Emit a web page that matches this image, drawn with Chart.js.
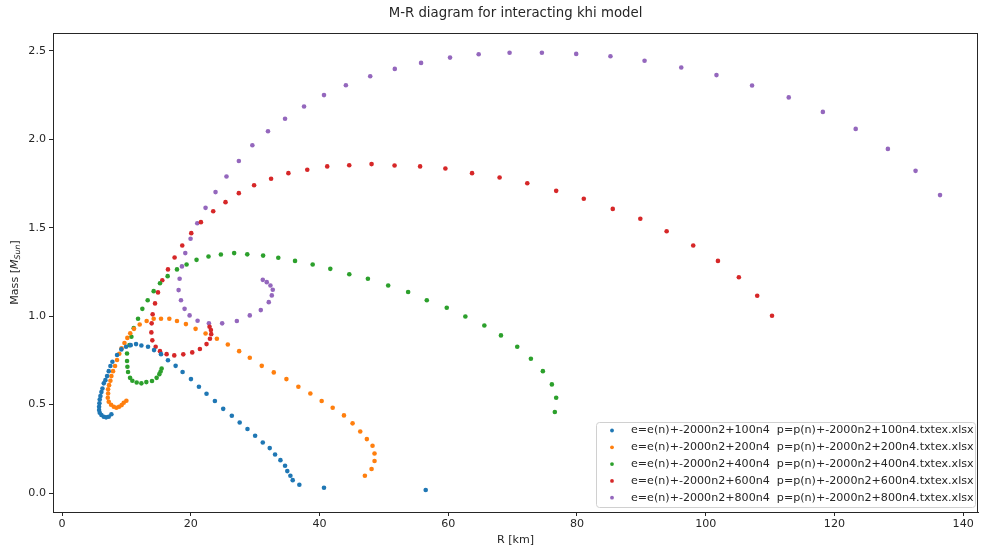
<!DOCTYPE html>
<html>
<head>
<meta charset="utf-8">
<script src="https://cdn.jsdelivr.net/npm/chart.js@4"></script>
<style>
  html,body{margin:0;padding:0;background:#fff;}
  #wrap{width:982px;height:548px;}
</style>
</head>
<body>
<div id="wrap"><canvas id="chart" width="982" height="548"></canvas></div>
<script>
/* DATA (R in km, M in solar masses) */
const labels = [
  "e=e(n)+-2000n2+100n4  p=p(n)+-2000n2+100n4.txtex.xlsx",
  "e=e(n)+-2000n2+200n4  p=p(n)+-2000n2+200n4.txtex.xlsx",
  "e=e(n)+-2000n2+400n4  p=p(n)+-2000n2+400n4.txtex.xlsx",
  "e=e(n)+-2000n2+600n4  p=p(n)+-2000n2+600n4.txtex.xlsx",
  "e=e(n)+-2000n2+800n4  p=p(n)+-2000n2+800n4.txtex.xlsx"
];
const colors = ["#1f77b4","#ff7f0e","#2ca02c","#d62728","#9467bd"];

const r100 = [7.67,7.26,6.85,6.49,6.12,5.86,5.76,5.76,5.81,5.86,5.97,6.12,6.28,6.49,6.74,7.0,7.26,7.52,7.83,8.55,
  9.22,9.95,10.67,11.5,12.33,13.36,14.3,15.38,16.46,17.65,18.73,20.03,21.27,22.45,23.75,25.04,26.38,27.6,28.81,30.0,
  31.19,32.27,33.1,33.93,34.65,35.0,35.48,35.84,36.87,40.7,56.5];
const m100 = [0.445,0.431,0.428,0.431,0.441,0.454,0.469,0.488,0.507,0.529,0.548,0.571,0.591,0.620,0.638,0.661,0.689,0.718,0.742,0.78,
  0.812,0.827,0.836,0.842,0.834,0.827,0.808,0.785,0.751,0.719,0.684,0.644,0.601,0.561,0.520,0.476,0.437,0.399,0.362,0.324,
  0.286,0.254,0.218,0.186,0.154,0.124,0.098,0.073,0.047,0.030,0.017];

const r200 = [10.0,9.59,9.27,8.86,8.45,8.04,7.62,7.26,7.11,7.16,7.16,7.31,7.52,7.67,7.93,8.24,8.55,8.9,9.25,9.7,
  10.15,10.6,11.19,12.07,13.15,14.24,15.38,16.67,17.86,19.25,20.75,22.3,24.06,25.76,27.52,29.17,31.03,32.9,34.86,36.72,
  38.58,40.34,42.05,43.8,45.14,46.33,47.36,48.24,48.55,48.55,48.09,47.05];
const m200 = [0.522,0.510,0.497,0.488,0.482,0.488,0.499,0.516,0.539,0.563,0.586,0.610,0.635,0.661,0.689,0.718,0.752,0.787,0.818,0.848,
  0.877,0.903,0.928,0.953,0.972,0.985,0.985,0.985,0.972,0.955,0.928,0.902,0.872,0.840,0.802,0.765,0.719,0.682,0.644,0.601,
  0.563,0.520,0.482,0.439,0.394,0.348,0.305,0.267,0.224,0.181,0.136,0.098];

const r400 = [15.48,15.32,15.12,14.7,13.98,13.1,12.33,11.6,10.93,10.57,10.26,10.16,10.1,10.1,10.47,10.78,11.14,11.81,12.48,13.31,
  14.24,15.22,16.41,17.86,19.35,20.9,22.76,24.68,26.74,28.78,31.24,33.6,36.2,38.94,41.68,44.63,47.52,50.67,53.77,56.67,
  59.77,62.66,65.61,68.19,70.72,72.84,74.7,76.1,76.77,76.56];
const m400 = [0.704,0.687,0.672,0.651,0.633,0.627,0.620,0.625,0.635,0.651,0.684,0.714,0.746,0.789,0.836,0.883,0.932,0.985,1.041,1.090,
  1.141,1.186,1.226,1.264,1.292,1.318,1.337,1.348,1.356,1.349,1.342,1.330,1.312,1.292,1.267,1.237,1.211,1.173,1.136,1.090,
  1.047,0.998,0.947,0.891,0.827,0.759,0.689,0.614,0.539,0.458];

const r600 = [22.92,23.13,23.18,22.98,22.45,21.42,20.23,18.84,17.44,16.25,15.22,14.55,14.03,13.88,13.93,14.08,14.45,14.91,15.58,16.46,
  17.49,18.68,20.08,21.58,23.49,25.4,27.47,29.84,32.48,35.17,38.1,41.2,44.62,48.09,51.66,55.63,59.56,63.7,67.98,72.28,
  76.77,81.06,85.56,89.84,93.93,98.06,101.9,105.15,108.0,110.3];
const m600 = [0.940,0.921,0.898,0.872,0.842,0.814,0.795,0.784,0.778,0.785,0.802,0.827,0.863,0.908,0.959,1.010,1.072,1.134,1.203,1.264,
  1.331,1.399,1.469,1.531,1.593,1.644,1.695,1.740,1.776,1.808,1.827,1.846,1.853,1.859,1.851,1.846,1.834,1.808,1.783,1.751,
  1.708,1.663,1.606,1.550,1.480,1.399,1.312,1.220,1.115,1.002];

const r800 = [31.19,31.81,32.38,32.74,32.59,32.12,30.88,29.17,27.16,24.88,22.82,21.06,19.82,19.04,18.48,18.11,18.27,18.63,19.15,19.97,
  21.01,22.3,23.85,25.55,27.47,29.57,32.0,34.65,37.6,40.7,44.1,47.88,51.7,55.78,60.28,64.73,69.53,74.55,79.88,85.2,
  90.5,96.2,101.67,107.2,112.9,118.2,123.3,128.3,132.6,136.4];
const m800 = [1.205,1.192,1.173,1.149,1.117,1.079,1.034,1.004,0.972,0.959,0.959,0.974,1.004,1.041,1.090,1.147,1.211,1.281,1.356,1.437,
  1.525,1.612,1.701,1.789,1.877,1.966,2.045,2.115,2.185,2.249,2.305,2.356,2.397,2.431,2.461,2.480,2.488,2.488,2.482,2.469,
  2.443,2.405,2.362,2.303,2.236,2.154,2.058,1.945,1.821,1.684];

const xTicks = [0,20,40,60,80,100,120,140];
const yTicks = [0.0,0.5,1.0,1.5,2.0,2.5];

const seriesR = [r100,r200,r400,r600,r800];
const seriesM = [m100,m200,m400,m600,m800];

const TITLE = "M-R diagram for interacting khi model";
const FONT = "'DejaVu Sans', sans-serif";
const INK = "#262626";
const FS = 11.1;

/* TITLE + FRAME + Y LABEL + LEGEND */
const decor = {
  id:"decor",
  afterDraw(chart){
    const {ctx, chartArea:a} = chart;
    ctx.save();
    // box around the axes
    ctx.strokeStyle = INK;
    ctx.lineWidth = 1;
    ctx.strokeRect(Math.round(a.left)+0.5, Math.round(a.top)+0.5, Math.round(a.right-a.left)-1, Math.round(a.bottom-a.top));

    // title over the axes
    ctx.fillStyle = INK;
    ctx.font = "13.3px "+FONT;
    ctx.textAlign = "center";
    ctx.textBaseline = "middle";
    ctx.fillText(TITLE, (a.left+a.right)/2, 13.5);

    // y label: Mass [M_Sun]
    const parts = [
      {t:"Mass [", f:FS+"px "+FONT, dy:0},
      {t:"M", f:"italic "+FS+"px "+FONT, dy:0},
      {t:"Sun", f:"italic 7.8px "+FONT, dy:2.8},
      {t:"]", f:FS+"px "+FONT, dy:0}
    ];
    let w = 0;
    parts.forEach(p=>{ ctx.font=p.f; p.w=ctx.measureText(p.t).width; w+=p.w; });
    ctx.translate(15, (a.top+a.bottom)/2);
    ctx.rotate(-Math.PI/2);
    ctx.textAlign = "left";
    let x = -w/2;
    parts.forEach(p=>{ ctx.font=p.f; ctx.fillText(p.t, x, p.dy); x+=p.w; });
    ctx.setTransform(1,0,0,1,0,0);

    // legend (lower right)
    const rowH = 16.8, boxW = 379, boxH = 85;
    const bx = a.right - 3 - boxW, by = a.bottom - 5 - boxH;
    ctx.fillStyle = "rgba(255,255,255,0.85)";
    ctx.strokeStyle = "#d0d0d0";
    ctx.beginPath();
    ctx.roundRect(bx+0.5, by+0.5, boxW, boxH, 3);
    ctx.fill();
    ctx.stroke();
    ctx.font = FS+"px "+FONT;
    ctx.textBaseline = "middle";
    chart.data.datasets.forEach((ds,i)=>{
      const cy = by + 8.5 + i*rowH;
      ctx.fillStyle = ds.backgroundColor;
      ctx.beginPath();
      ctx.arc(bx+16, cy, 1.9, 0, Math.PI*2);
      ctx.fill();
      ctx.fillStyle = INK;
      ctx.fillText(ds.label, bx+35, cy);
    });
    ctx.restore();
  }
};

new Chart(document.getElementById("chart"),{
  type:"scatter",
  data:{
    datasets: seriesR.map((rs,i)=>({
      label: labels[i],
      data: rs.map((r,j)=>({x:r, y:seriesM[i][j]})),
      backgroundColor: colors[i],
      borderWidth: 0,
      pointRadius: 2.3
    }))
  },
  options:{
    responsive:false,
    animation:false,
    devicePixelRatio:1,
    layout:{padding:{left:0,right:2,top:33,bottom:0}},
    plugins:{
      legend:{display:false},
      tooltip:{enabled:false},
      title:{display:false}
    },
    scales:{
      x:{
        type:"linear",
        min:-1.4, max:142.3,
        afterBuildTicks: s=>{ s.ticks = xTicks.map(v=>({value:v})); },
        afterFit: s=>{ s.height = 36; },
        border:{color:INK},
        grid:{drawOnChartArea:false, color:INK, tickLength:4},
        ticks:{color:INK, font:{family:FONT,size:FS}, padding:1, maxRotation:0},
        title:{display:true, text:"R [km]", color:INK, font:{family:FONT,size:FS}, padding:{top:0,bottom:1}}
      },
      y:{
        type:"linear",
        min:-0.107, max:2.6,
        afterBuildTicks: s=>{ s.ticks = yTicks.map(v=>({value:v})); },
        afterFit: s=>{ s.width = 53; },
        border:{color:INK},
        grid:{drawOnChartArea:false, color:INK, tickLength:4},
        ticks:{color:INK, font:{family:FONT,size:FS}, padding:3, callback:v=>v.toFixed(1)}
      }
    }
  },
  plugins:[decor]
});
</script>
</body>
</html>
